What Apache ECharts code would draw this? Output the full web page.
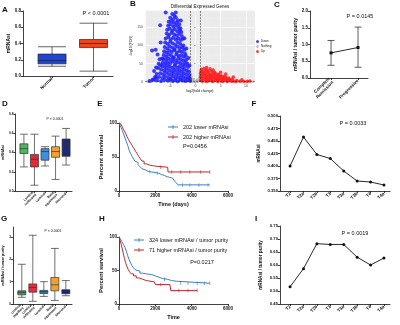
<!DOCTYPE html>
<html>
<head>
<meta charset="utf-8">
<script src="https://cdn.jsdelivr.net/npm/echarts@6/dist/echarts.min.js"></script>
<style>
  html, body { margin: 0; padding: 0; background: #fff; }
  #main { width: 400px; height: 325px; }
</style>
</head>
<body>
<div id="main"></div>
<script>
// --- A: mRNAsi, normal vs tumor  [min, Q1, median, Q3, max]
const aCats = ['Normal', 'Tumor'];
const aBoxes = [[0.12, 0.15, 0.19, 0.27, 0.36], [0.06, 0.35, 0.40, 0.45, 0.65]];

// --- B: volcano  [log2 fold change, -log10 FDR]
const bDown = [
  [-4.6,186],[-4.2,181],[-3.9,190],
  [-5.0,176],[-4.4,172],[-3.9,177],[-3.5,169],
  [-5.3,165],[-4.8,167],[-4.3,162],[-3.7,163],[-3.2,158],
  [-5.4,154],[-4.9,157],[-4.4,151],[-3.9,155],[-3.4,150],[-3.0,147],
  [-5.6,143],[-5.1,146],[-4.6,140],[-4.1,144],[-3.6,139],[-3.1,142],[-2.8,137],
  [-5.7,133],[-5.2,129],[-4.7,135],[-4.2,130],[-3.7,127],[-3.2,132],[-2.7,126],
  [-5.9,119],[-5.4,123],[-4.9,117],[-4.4,121],[-3.9,116],[-3.4,120],[-2.9,115],[-2.5,118],
  [-6.0,108],[-5.5,104],[-5.0,110],[-4.5,106],[-4.0,101],[-3.5,109],[-3.0,104],[-2.4,100],
  [-6.1,96],[-5.6,92],[-5.1,98],[-4.6,94],[-4.1,90],[-3.6,97],[-3.1,93],[-2.6,95],[-2.2,89],
  [-6.2,84],[-5.7,81],[-5.2,86],[-4.7,82],[-4.2,87],[-3.7,80],[-3.2,85],[-2.7,83],[-2.1,79],
  [-6.3,74],[-5.8,70],[-5.3,76],[-4.8,72],[-4.3,68],[-3.8,75],[-3.3,71],[-2.8,73],[-2.3,69],[-1.9,72],
  [-6.4,63],[-5.9,60],[-5.4,65],[-4.9,61],[-4.4,66],[-3.9,59],[-3.4,64],[-2.9,62],[-2.4,58],[-1.8,61],
  [-6.5,53],[-6.0,50],[-5.5,55],[-5.0,51],[-4.5,56],[-4.0,49],[-3.5,54],[-3.0,52],[-2.5,48],[-2.0,53],[-1.6,50],
  [-6.6,44],[-6.1,41],[-5.6,46],[-5.1,42],[-4.6,39],[-4.1,45],[-3.6,40],[-3.1,43],[-2.6,38],[-2.1,44],[-1.5,41],
  [-6.8,34],[-6.2,31],[-5.7,36],[-5.2,32],[-4.7,29],[-4.2,35],[-3.7,30],[-3.2,33],[-2.7,28],[-2.2,34],[-1.7,31],[-1.3,29],
  [-7.0,24],[-6.4,21],[-5.8,26],[-5.3,22],[-4.8,19],[-4.3,25],[-3.8,20],[-3.3,23],[-2.8,18],[-2.3,24],[-1.8,21],[-1.2,19],
  [-7.2,14],[-6.5,11],[-6.0,16],[-5.4,12],[-4.9,9],[-4.4,15],[-3.9,10],[-3.4,13],[-2.9,8],[-2.4,14],[-1.9,11],[-1.4,12],[-1.1,9],
  [-7.6,5],[-6.8,3],[-6.1,6],[-5.5,4],[-5.0,7],[-4.5,3],[-4.0,5],[-3.5,2],[-3.0,6],[-2.5,4],[-2.0,3],[-1.5,5],[-1.05,3],
  [-7.4,38],[-7.7,22],[-8.0,14],[-8.3,7],[-7.1,62],[-7.5,75],[-6.9,46],[-7.8,40],
  [-7.0,155],[-8.6,86],[-7.9,88],[-6.6,64],[-5.9,190],[-2.9,168],[-8.2,30],[-9.1,3],[-8.5,6],[-7.8,12],
  [-6.9,108],[-7.3,50],[-2.2,120],[-1.8,92],[-1.4,66],[-1.2,45]
];
const bUp = [
  [1.2,35],[1.7,37],[2.3,33],[2.9,36],
  [1.1,30],[1.5,28],[2.0,31],[2.6,29],[3.2,30],[3.8,27],
  [1.0,24],[1.4,26],[1.9,23],[2.4,25],[2.9,22],[3.4,24],[3.9,23],[4.5,21],
  [1.1,19],[1.6,20],[2.1,18],[2.6,19],[3.1,17],[3.6,20],[4.1,18],[4.6,19],[5.1,17],[5.7,16],
  [1.0,14],[1.5,15],[2.0,13],[2.5,14],[3.0,15],[3.5,12],[4.0,14],[4.5,13],[5.0,15],[5.5,12],[6.0,13],[6.6,11],
  [1.2,10],[1.7,9],[2.2,10],[2.7,8],[3.2,10],[3.7,9],[4.2,8],[4.7,10],[5.2,9],[5.7,8],[6.2,9],[6.7,7],[7.3,8],
  [1.0,5],[1.5,4],[2.0,6],[2.5,4],[3.0,5],[3.5,3],[4.0,5],[4.5,4],[5.0,6],[5.5,3],[6.0,5],[6.5,4],[7.0,5],[7.6,3],[8.2,4],
  [1.3,2],[2.2,1.5],[3.3,2],[4.4,1.5],[5.3,2],[6.3,1.5],[7.2,2],[8.0,1.5],[8.8,2],[9.6,1.5],[10.3,2],
  [2.2,40],[3.5,33],[5.0,27],[6.0,22],[7.5,14],[9.2,6],[10.8,3]
];
const bNothing = [
  [-0.9,22],[-0.8,15],[-0.6,9],[-0.4,5],[-0.2,2],[0,0.5],[0.2,1.5],[0.4,4],[0.6,7],[0.8,12],[0.9,18],
  [-0.7,3],[0.7,3],[-0.5,1],[0.5,1],[0.1,3],[-0.3,8],[0.3,6],
  [-9.5,0.6],[-8.7,0.4],[-7.8,0.7],[-7.0,0.3],[-6.2,0.6],[-5.3,0.4],[-4.4,0.8],[-3.6,0.3],[-2.7,0.6],[-1.8,0.5],
  [1.8,0.4],[2.7,0.7],[3.6,0.3],[4.5,0.6],[5.4,0.4],[6.3,0.7],[7.2,0.3],[8.1,0.6],[9.0,0.4],[9.9,0.5],[10.8,0.7],[11.4,0.4]
];
const bThreshX = [-1, 1];
const bThreshY = 1.3;

// --- C: response groups  mean and error range
const cCats = ['Complete\nRemission', 'Progressive'];
const cMean = [0.75, 0.91];
const cLow = [0.38, 0.32];
const cHigh = [1.12, 1.52];

// --- D / G: mRNA subtypes  [min, Q1, median, Q3, max]
const subtypes = ['Luminal\npapillary', 'Luminal\ninfiltrated', 'Luminal', 'Basal\nsquamous', 'Neuronal'];
const dBoxes = [
  [0.25, 0.39, 0.44, 0.49, 0.59],
  [0.06, 0.25, 0.33, 0.38, 0.59],
  [0.26, 0.32, 0.41, 0.44, 0.46],
  [0.12, 0.35, 0.41, 0.46, 0.57],
  [0.27, 0.36, 0.48, 0.54, 0.65]
];
const gBoxes = [
  [0.30, 0.41, 0.52, 0.59, 1.78],
  [0.12, 0.53, 0.74, 0.90, 3.08],
  [0.34, 0.47, 0.56, 0.61, 1.00],
  [0.16, 0.59, 0.86, 1.19, 2.49],
  [0.37, 0.46, 0.56, 0.64, 1.05]
];
const gTicks = [0, 1, 2, 3];

// --- E / H: Kaplan-Meier  [days, percent]
const eLow = [[0,100],[60,97],[120,93],[180,89],[250,84],[320,79],[400,73],[480,67],[560,60],[640,55],[720,51],[800,47],[880,44],[960,42],[1050,39],[1150,36],[1250,33],[1350,31],[1450,29],[1600,28],[1800,27],[2050,26],[2200,24],[2350,23],[2500,21],[2650,20],[2800,19],[2950,17],[3050,15],[3150,12],[3250,9],[5000,9]];
const eHigh = [[0,100],[60,98],[120,96],[200,93],[280,89],[360,85],[440,80],[520,76],[600,72],[680,69],[760,65],[840,62],[920,58],[1000,55],[1080,51],[1160,48],[1260,44],[1380,40],[1500,38],[1700,37],[1900,36],[2200,35],[2680,35],[2700,28],[5000,28]];
const eLowCens = [[1700,28],[2100,26],[3500,9],[3900,9],[4400,9],[4900,9]];
const eHighCens = [[2300,35],[2900,28],[3400,28],[3900,28],[4500,28],[5000,28]];
const hLow = [[0,100],[80,97],[160,93],[240,89],[320,85],[400,79],[480,72],[560,66],[640,61],[720,57],[800,54],[900,51],[1000,49],[1150,46],[1300,45],[1500,44],[1800,42],[2000,40],[2200,38],[2400,37],[2650,35],[2900,34],[3150,32],[3250,31],[5000,31]];
const hHigh = [[0,100],[60,95],[120,89],[180,82],[240,75],[300,68],[360,62],[420,57],[500,52],[580,48],[680,45],[800,42],[950,39],[1100,37],[1300,35],[1500,33],[1950,33],[2000,29],[2800,29],[2850,20],[4300,20]];
const hLowCens = [[2500,37],[3400,31],[3800,31],[4300,31],[4700,31],[5000,31]];
const hHighCens = [[2300,29],[3300,20],[3800,20],[4300,20]];

// --- F / I: T stage means
const stages = ['T2', 'T2a', 'T2b', 'T3', 'T3a', 'T3b', 'T4', 'T4a'];
const fValues = [0.400, 0.458, 0.423, 0.415, 0.390, 0.370, 0.368, 0.362];
const iValues = [0.516, 0.586, 0.682, 0.679, 0.679, 0.630, 0.600, 0.627];

// --- styles
const FONT = '"Liberation Sans", Arial, sans-serif';
const INK = '#111';
const aColors = ['#1f45d6', '#e8461e'];
const dColors = ['#4cb85a', '#e02b35', '#3b8fdc', '#f5a030', '#1e2b70'];
const gColors = ['#35a050', '#e33040', '#2a7f9a', '#f0a030', '#1c2466'];
const KM_BLUE = '#3a7fc0';
const KM_RED = '#c0282e';

const chart = echarts.init(document.getElementById('main'));

const line = { color: INK, width: 0.8 };

function yAxis(gi, min, max, interval, fmt, name, nameGap, fs, extra) {
  return Object.assign({
    type: 'value', gridIndex: gi, min, max, interval,
    axisLine: { show: true, onZero: false, lineStyle: line },
    axisTick: { show: true, length: 2, lineStyle: line },
    axisLabel: { fontSize: fs, fontWeight: 'bold', color: INK, margin: 2, fontFamily: FONT, formatter: fmt },
    splitLine: { show: false },
    name, nameLocation: 'middle', nameGap,
    nameTextStyle: { fontSize: fs + 0.5, fontWeight: 'bold', color: INK, fontFamily: FONT }
  }, extra || {});
}

// value axis that puts each category at 0,1,2,...
function catAxis(gi, min, max, names, fs) {
  const vals = names.map((_, i) => i);
  return {
    type: 'value', gridIndex: gi, min, max,
    axisLine: { show: true, onZero: false, lineStyle: line },
    axisTick: { show: true, length: 2, lineStyle: line, customValues: vals },
    axisLabel: {
      customValues: vals, rotate: 45, fontSize: fs, lineHeight: fs + 0.6, fontWeight: 'bold',
      color: INK, margin: 2, fontFamily: FONT,
      formatter: v => (names[v] !== undefined ? names[v] : '')
    },
    splitLine: { show: false }
  };
}

function timeAxis(gi, name) {
  return {
    type: 'value', gridIndex: gi, min: 0, max: 6000, interval: 2000,
    axisLine: { show: true, onZero: false, lineStyle: line },
    axisTick: { show: true, length: 2, lineStyle: line },
    axisLabel: { fontSize: 4.5, fontWeight: 'bold', color: INK, margin: 2, formatter: v => String(v) },
    splitLine: { show: false },
    name, nameLocation: 'middle', nameGap: 10,
    nameTextStyle: { fontSize: 5.5, fontWeight: 'bold', color: INK }
  };
}

function boxData(boxes, colors, border) {
  return boxes.map((b, i) => ({
    value: [i].concat(b),
    itemStyle: { color: colors[i], borderColor: border, borderWidth: 0.7 }
  }));
}

function errorBar(params, api) {
  const x = api.value(0);
  const lo = api.coord([x, api.value(1)]);
  const hi = api.coord([x, api.value(2)]);
  const w = 3.5;
  const style = { stroke: '#333', lineWidth: 0.8 };
  return {
    type: 'group',
    children: [
      { type: 'line', shape: { x1: lo[0], y1: lo[1], x2: hi[0], y2: hi[1] }, style },
      { type: 'line', shape: { x1: lo[0] - w, y1: lo[1], x2: lo[0] + w, y2: lo[1] }, style },
      { type: 'line', shape: { x1: hi[0] - w, y1: hi[1], x2: hi[0] + w, y2: hi[1] }, style }
    ]
  };
}

function txt(x, y, text, size, weight, align) {
  return {
    type: 'text', x, y, silent: true,
    style: {
      text, fill: INK, font: (weight || 'normal') + ' ' + size + 'px ' + FONT,
      align: align || 'center', verticalAlign: 'middle',
      textAlign: align || 'center', textVerticalAlign: 'middle'
    }
  };
}

const kmLine = (name, data, color, xi) => ({
  name, type: 'line', xAxisIndex: xi, yAxisIndex: xi, data, step: 'end',
  symbol: 'none', lineStyle: { color, width: 1 }, itemStyle: { color }
});
const kmCens = (data, color, xi) => ({
  type: 'scatter', xAxisIndex: xi, yAxisIndex: xi, data,
  symbol: 'rect', symbolSize: [0.8, 3.5], itemStyle: { color }
});

const idx = arr => arr.map((v, i) => [i, v]);

const option = {
  animation: false,
  textStyle: { fontFamily: FONT },
  grid: [
    { left: 23, top: 11, width: 90, height: 65 },     // A
    { left: 145, top: 10, width: 110, height: 72, show: true, backgroundColor: '#ebebeb', borderWidth: 0 }, // B
    { left: 310, top: 11, width: 58, height: 67 },    // C
    { left: 13, top: 114, width: 59, height: 77 },    // D
    { left: 119, top: 123, width: 109, height: 68 },  // E
    { left: 280, top: 116, width: 110, height: 75 },  // F
    { left: 13, top: 227, width: 59, height: 77 },    // G
    { left: 119, top: 237, width: 109, height: 67 },  // H
    { left: 280, top: 226, width: 110, height: 78 }   // I
  ],
  xAxis: [
    catAxis(0, -0.7, 1.47, aCats, 4.5),
    {
      type: 'value', gridIndex: 1, min: -10, max: 11.8, interval: 5,
      axisLine: { show: false }, axisTick: { show: true, length: 1.5, lineStyle: { color: '#555', width: 0.5 } },
      axisLabel: { fontSize: 3.5, color: '#4d4d4d', margin: 2, showMinLabel: false, showMaxLabel: false },
      splitLine: { show: true, lineStyle: { color: '#fff', width: 0.7 } },
      minorTick: { show: false, splitNumber: 2 },
      minorSplitLine: { show: true, lineStyle: { color: '#f7f7f7', width: 0.35 } },
      name: 'log2(fold change)', nameLocation: 'middle', nameGap: 6,
      nameTextStyle: { fontSize: 3.5, color: INK }
    },
    catAxis(2, -0.78, 1.37, cCats, 4.5),
    catAxis(3, -0.8, 4.56, subtypes, 3.3),
    timeAxis(4, 'Time (days)'),
    catAxis(5, -0.75, 7.45, stages, 4.5),
    catAxis(6, -0.8, 4.56, subtypes, 3.3),
    timeAxis(7, 'Time'),
    catAxis(8, -0.75, 7.45, stages, 4.5)
  ],
  yAxis: [
    yAxis(0, 0, 0.8, 0.2, v => v.toFixed(1), 'mRNAsi', 12, 4.5),
    {
      type: 'value', gridIndex: 1, min: 0, max: 197, interval: 50,
      axisLine: { show: false }, axisTick: { show: true, length: 1.5, lineStyle: { color: '#555', width: 0.5 } },
      axisLabel: { fontSize: 3.5, color: '#4d4d4d', margin: 2, showMaxLabel: false },
      splitLine: { show: true, lineStyle: { color: '#fff', width: 0.7 } },
      minorTick: { show: false, splitNumber: 2 },
      minorSplitLine: { show: true, lineStyle: { color: '#f7f7f7', width: 0.35 } },
      name: '-log10 (FDR)', nameLocation: 'middle', nameGap: 8,
      nameTextStyle: { fontSize: 3.5, color: INK }
    },
    yAxis(2, 0, 2, 0.5, v => v.toFixed(1), 'mRNAsi / tumor purity', 8, 4.5),
    yAxis(3, 0, 0.8, 0.2, v => v.toFixed(1), 'mRNAsi', 8, 3.3),
    yAxis(4, 0, 100, 50, v => String(v), 'Percent survival', 15, 4.5, {
      nameTextStyle: { fontSize: 5.8, fontWeight: 'bold', color: INK, fontFamily: FONT }
    }),
    yAxis(5, 0.35, 0.5, 0.025, v => v.toFixed(3), 'mRNAsi', 19, 4.2),
    yAxis(6, 0, 3.45, 1, v => String(v), 'mRNAsi / tumor purity', 7, 3.3, {
      axisTick: { show: true, length: 2, lineStyle: line, customValues: gTicks },
      axisLabel: { customValues: gTicks, fontSize: 3.3, fontWeight: 'bold', color: INK, margin: 2 }
    }),
    yAxis(7, 0, 100, 50, v => String(v), 'Percent survival', 15, 4.5, {
      nameTextStyle: { fontSize: 5.8, fontWeight: 'bold', color: INK, fontFamily: FONT }
    }),
    yAxis(8, 0.45, 0.75, 0.05, v => v.toFixed(2), 'mRNAsi / tumor purity', 17, 4.2)
  ],
  legend: [
    {
      data: ['Down', 'Nothing', 'Up'], orient: 'vertical', left: 256, top: 40,
      itemWidth: 3, itemHeight: 3, itemGap: 2, icon: 'circle', padding: 0,
      textStyle: { fontSize: 3, color: INK, padding: [0, 0, 0, -3] }
    },
    {
      data: ['202 lower mRNAsi', '202 higher mRNAsi'], orient: 'vertical', left: 168, top: 124,
      itemWidth: 10, itemHeight: 4, itemGap: 4, padding: 0,
      icon: 'path://M0,1.6L10,1.6L10,2.4L0,2.4Z M4.6,0L5.4,0L5.4,4L4.6,4Z',
      textStyle: { fontSize: 5.5, color: INK }
    },
    {
      data: ['324 lower mRNAsi / tumor purity', '71 higher mRNAsi / tumor purity'], orient: 'vertical', left: 134, top: 237,
      itemWidth: 10, itemHeight: 4, itemGap: 4, padding: 0,
      icon: 'path://M0,1.6L10,1.6L10,2.4L0,2.4Z M4.6,0L5.4,0L5.4,4L4.6,4Z',
      textStyle: { fontSize: 5.5, color: INK }
    }
  ],
  series: [
    // A
    { type: 'boxplot', xAxisIndex: 0, yAxisIndex: 0, boxWidth: [28, 28], data: boxData(aBoxes, aColors, '#222') },
    // B
    {
      name: 'Nothing', type: 'scatter', xAxisIndex: 1, yAxisIndex: 1, data: bNothing,
      symbolSize: 2.5, itemStyle: { color: '#b5b5b5' },
      markLine: {
        silent: true, symbol: 'none', label: { show: false },
        lineStyle: { color: '#222', type: 'dashed', width: 0.5 },
        data: bThreshX.map(v => ({ xAxis: v })).concat([{ yAxis: bThreshY }])
      }
    },
    { name: 'Down', type: 'scatter', xAxisIndex: 1, yAxisIndex: 1, data: bDown, symbolSize: 4, itemStyle: { color: '#1f1fff', opacity: 0.85 } },
    { name: 'Up', type: 'scatter', xAxisIndex: 1, yAxisIndex: 1, data: bUp, symbolSize: 3.5, itemStyle: { color: '#ff1f1f', opacity: 0.85 } },
    // C
    {
      type: 'custom', xAxisIndex: 2, yAxisIndex: 2, renderItem: errorBar,
      encode: { x: 0, y: [1, 2] }, data: cMean.map((m, i) => [i, cLow[i], cHigh[i]])
    },
    {
      type: 'line', xAxisIndex: 2, yAxisIndex: 2, data: idx(cMean), symbol: 'rect', symbolSize: 3,
      lineStyle: { color: INK, width: 0.9 }, itemStyle: { color: INK }
    },
    // D
    { type: 'boxplot', xAxisIndex: 3, yAxisIndex: 3, boxWidth: [8, 8], data: boxData(dBoxes, dColors, '#333') },
    // E
    kmLine('202 lower mRNAsi', eLow, KM_BLUE, 4),
    kmLine('202 higher mRNAsi', eHigh, KM_RED, 4),
    kmCens(eLowCens, KM_BLUE, 4),
    kmCens(eHighCens, KM_RED, 4),
    // F
    {
      type: 'line', xAxisIndex: 5, yAxisIndex: 5, data: idx(fValues), symbol: 'circle', symbolSize: 3,
      lineStyle: { color: INK, width: 0.9 }, itemStyle: { color: INK }
    },
    // G
    { type: 'boxplot', xAxisIndex: 6, yAxisIndex: 6, boxWidth: [8, 8], data: boxData(gBoxes, gColors, '#333') },
    // H
    kmLine('324 lower mRNAsi / tumor purity', hLow, KM_BLUE, 7),
    kmLine('71 higher mRNAsi / tumor purity', hHigh, KM_RED, 7),
    kmCens(hLowCens, KM_BLUE, 7),
    kmCens(hHighCens, KM_RED, 7),
    // I
    {
      type: 'line', xAxisIndex: 8, yAxisIndex: 8, data: idx(iValues), symbol: 'circle', symbolSize: 3,
      lineStyle: { color: INK, width: 0.9 }, itemStyle: { color: INK }
    }
  ],
  graphic: [
    txt(5, 10, 'A', 8, 'bold'),
    txt(133, 4, 'B', 8, 'bold'),
    txt(277, 5, 'C', 8, 'bold'),
    txt(5, 104, 'D', 8, 'bold'),
    txt(100, 104, 'E', 8, 'bold'),
    txt(254, 104, 'F', 8, 'bold'),
    txt(4, 219, 'G', 8, 'bold'),
    txt(102, 219, 'H', 8, 'bold'),
    txt(256, 219, 'I', 8, 'bold'),
    txt(96, 13, 'P < 0.0001', 5.5),
    txt(200, 7, 'Differential Expressed Genes', 4.5),
    txt(360, 16, 'P = 0.0145', 5.5),
    txt(55, 119, 'P < 0.0001', 3.5),
    txt(183, 146, 'P=0.0456', 5.5, 'normal', 'left'),
    txt(353, 123, 'P = 0.0033', 5.5),
    txt(53, 231, 'P < 0.0001', 3.5),
    txt(202, 262, 'P=0.0217', 5.5),
    txt(355, 233, 'P = 0.0019', 5.5)
  ]
};

chart.setOption(option);
</script>
</body>
</html>
